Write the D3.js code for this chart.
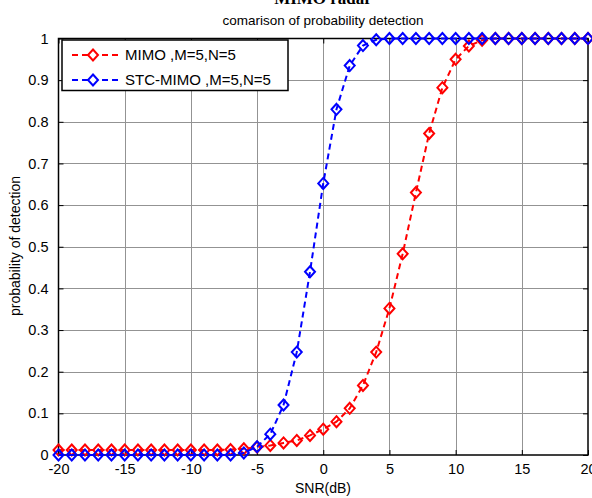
<!DOCTYPE html>
<html>
<head>
<meta charset="utf-8">
<script src="https://cdn.jsdelivr.net/npm/d3@7"></script>
<style>
  body { margin: 0; background: #fff; }
  svg text { font-family: Arial, "Liberation Sans", sans-serif; fill: #000; }
</style>
</head>
<body>
<svg width="592" height="498"></svg>
<script>
const snr = [-20, -19, -18, -17, -16, -15, -14, -13, -12, -11, -10, -9, -8, -7, -6, -5, -4, -3, -2, -1,
    0, 1, 2, 3, 4, 5, 6, 7, 8, 9, 10, 11, 12, 13, 14, 15, 16, 17, 18, 19, 20];

const mimo = [0.012, 0.012, 0.012, 0.012, 0.012, 0.012, 0.012, 0.012, 0.012, 0.012, 0.012, 0.012, 0.012,
    0.013, 0.015, 0.019, 0.023, 0.029, 0.035, 0.047, 0.062, 0.08, 0.112, 0.167, 0.247, 0.352, 0.483,
    0.63, 0.772, 0.882, 0.95, 0.982, 0.996, 1, 1, 1, 1, 1, 1, 1, 1];

const stcMimo = [0, 0, 0, 0, 0, 0, 0, 0, 0, 0, 0, 0, 0, 0,
    0.005, 0.02, 0.05, 0.12, 0.247, 0.44, 0.652, 0.83, 0.935, 0.983, 0.997,
    1, 1, 1, 1, 1, 1, 1, 1, 1, 1, 1, 1, 1, 1, 1, 1];

const xTicks = [-20, -15, -10, -5, 0, 5, 10, 15, 20];
const yTicks = [0, 0.1, 0.2, 0.3, 0.4, 0.5, 0.6, 0.7, 0.8, 0.9, 1];

const seriesNames = ["MIMO ,M=5,N=5", "STC-MIMO ,M=5,N=5"];
const seriesColors = ["#ff0000", "#0000ff"];

const svg = d3.select("svg");
const plot = {left: 58.5, right: 588, top: 38.5, bottom: 455};

const x = d3.scaleLinear().domain([-20, 20]).range([plot.left, plot.right]);
const y = d3.scaleLinear().domain([0, 1]).range([plot.bottom, plot.top]);

// grid
const grid = svg.append("g").attr("stroke", "#939393").attr("stroke-width", 1);
grid.selectAll(".gx").data(xTicks.slice(1, -1)).join("line")
    .attr("x1", (d) => Math.round(x(d)) + 0.5).attr("x2", (d) => Math.round(x(d)) + 0.5)
    .attr("y1", plot.top).attr("y2", plot.bottom);
grid.selectAll(".gy").data(yTicks.slice(1, -1)).join("line")
    .attr("y1", (d) => Math.round(y(d)) + 0.5).attr("y2", (d) => Math.round(y(d)) + 0.5)
    .attr("x1", plot.left).attr("x2", plot.right);

// axes: MATLAB box with inward ticks on all sides
const tickLen = 5;
const fmt = (d) => String(+d.toFixed(1)); // plain hyphen, no unicode minus
svg.append("g").attr("transform", `translate(0,${plot.bottom})`)
    .call(d3.axisBottom(x).tickValues(xTicks).tickSizeInner(-tickLen).tickSizeOuter(0).tickPadding(9).tickFormat(fmt))
    .call((g) => g.select(".domain").remove())
    .selectAll("text").style("font-size", "14.5px").attr("fill", "#000");
svg.append("g").attr("transform", `translate(0,${plot.top})`)
    .call(d3.axisTop(x).tickValues(xTicks).tickSizeInner(-tickLen).tickSizeOuter(0).tickFormat(""))
    .call((g) => g.select(".domain").remove());
svg.append("g").attr("transform", `translate(${plot.left},0)`)
    .call(d3.axisLeft(y).tickValues(yTicks).tickSizeInner(-tickLen).tickSizeOuter(0).tickPadding(10).tickFormat(fmt))
    .call((g) => g.select(".domain").remove())
    .selectAll("text").style("font-size", "14.5px").attr("fill", "#000");
svg.append("g").attr("transform", `translate(${plot.right},0)`)
    .call(d3.axisRight(y).tickValues(yTicks).tickSizeInner(-tickLen).tickSizeOuter(0).tickFormat(""))
    .call((g) => g.select(".domain").remove());
svg.selectAll(".tick line").attr("stroke", "#000");

svg.append("rect")
    .attr("x", plot.left).attr("y", plot.top)
    .attr("width", plot.right - plot.left).attr("height", plot.bottom - plot.top)
    .attr("fill", "none").attr("stroke", "#000").attr("stroke-width", 1.5);

// series
const diamond = {
    draw(context, size) {
        const r = Math.sqrt(size) / 2;
        context.moveTo(0, -r * 1.1);
        context.lineTo(r, 0);
        context.lineTo(0, r * 1.1);
        context.lineTo(-r, 0);
        context.closePath();
    }
};
const marker = d3.symbol().type(diamond).size(100);

const line = d3.line()
    .x((d) => x(d[0]))
    .y((d) => y(d[1]));

[mimo, stcMimo].forEach((vals, i) => {
    const data = snr.map((s, j) => [s, vals[j]]);
    const g = svg.append("g");
    g.append("path")
        .datum(data)
        .attr("d", line)
        .attr("fill", "none")
        .attr("stroke", seriesColors[i])
        .attr("stroke-width", 2)
        .attr("stroke-dasharray", "6,4");
    g.selectAll("path.m").data(data).join("path")
        .attr("class", "m")
        .attr("transform", (d) => `translate(${x(d[0])},${y(d[1])})`)
        .attr("d", marker)
        .attr("fill", "none")
        .attr("stroke", seriesColors[i])
        .attr("stroke-width", 2);
});

// legend
const lg = svg.append("g").attr("transform", "translate(62,40)");
lg.append("rect")
    .attr("width", 226).attr("height", 50.5)
    .attr("fill", "#fff").attr("stroke", "#000").attr("stroke-width", 1.5);
seriesNames.forEach((name, i) => {
    const cy = 15 + i * 25;
    lg.append("line")
        .attr("x1", 10).attr("x2", 56).attr("y1", cy).attr("y2", cy)
        .attr("stroke", seriesColors[i]).attr("stroke-width", 2).attr("stroke-dasharray", "6,4");
    lg.append("path")
        .attr("transform", `translate(31,${cy})`)
        .attr("d", marker)
        .attr("fill", "#fff")
        .attr("stroke", seriesColors[i]).attr("stroke-width", 2);
    lg.append("text")
        .attr("x", 63).attr("y", cy).attr("dy", "0.36em")
        .style("font-size", "15px")
        .text(name);
});

// titles
svg.append("text")
    .attr("x", 323).attr("y", 4)
    .attr("text-anchor", "middle")
    .style("font-family", "'Liberation Serif', 'Times New Roman', serif")
    .style("font-weight", "bold").style("font-size", "17px")
    .text("MIMO radar");
svg.append("text")
    .attr("x", 323).attr("y", 25)
    .attr("text-anchor", "middle")
    .style("font-size", "13.5px")
    .text("comarison of probability detection");
svg.append("text")
    .attr("x", 323).attr("y", 493)
    .attr("text-anchor", "middle")
    .style("font-size", "14px")
    .text("SNR(dB)");
svg.append("text")
    .attr("transform", "translate(20,246) rotate(-90)")
    .attr("text-anchor", "middle")
    .style("font-size", "14px")
    .text("probability of detection");
</script>
</body>
</html>
